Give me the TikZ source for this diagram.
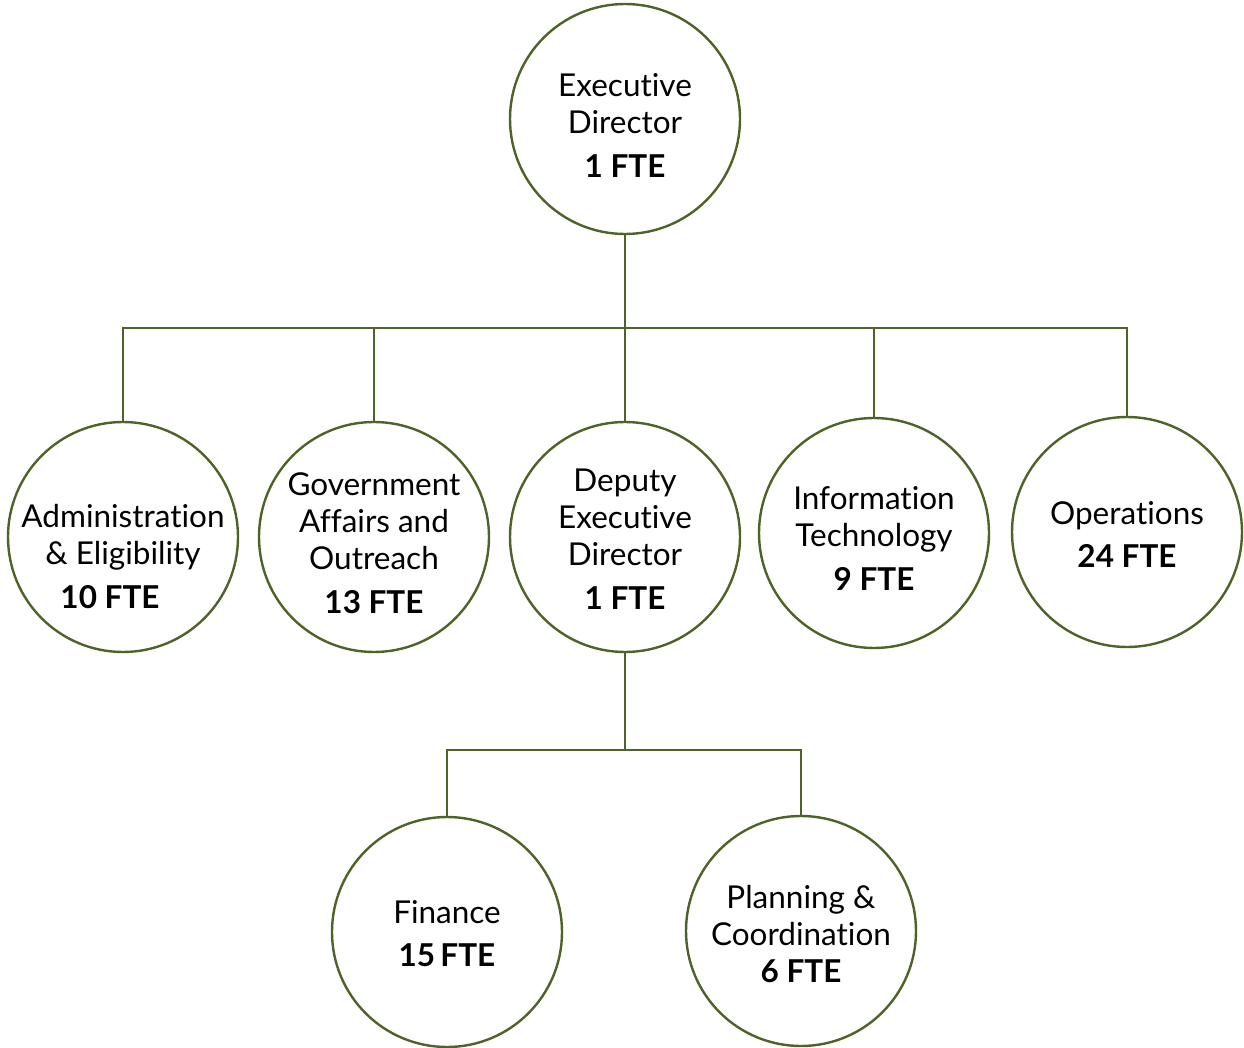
\documentclass[tikz,border=0pt]{standalone}
\usepackage{fontspec}
\setmainfont{Lato}[Ligatures={NoCommon,NoRequired,NoContextual}]
\definecolor{olive}{HTML}{4F6228}
\begin{document}
\begin{tikzpicture}[x=1pt,y=-1pt,
  circ/.style={circle,draw=olive,line width=2.4pt,minimum size=230pt,inner sep=0pt,fill=white},
  txt/.style={align=center,font=\fontsize{31.5}{37}\selectfont,text=black,anchor=base,inner sep=0pt},
  conn/.style={draw=olive,line width=2.4pt}]
\useasboundingbox (0,0) rectangle (1244,1048);
\coordinate (bus) at (625,328);
\coordinate (bus2) at (625,750);
\node[circ] (ed) at (625,119) {};
\node[circ] (adm) at (123,537) {};
\node[circ] (gov) at (374,537) {};
\node[circ] (dep) at (625,537) {};
\node[circ] (it) at (874,533) {};
\node[circ] (ops) at (1127,532) {};
\node[circ] (fin) at (447,932) {};
\node[circ] (pln) at (801,931) {};
\foreach \c in {adm,gov,dep,it,ops}
  \draw[conn] (ed.south) -- (ed.south |- bus) -| (\c.north);
\foreach \c in {fin,pln}
  \draw[conn] (dep.south) -- (dep.south |- bus2) -| (\c.north);
% texts (anchored at the baseline of their last line)
\node[txt] (t-ed) at (625,178) {Executive\\Director\\[7pt]\textbf{1 FTE}};
\node[txt] (t-adm) at (123,608) {Administration\\\&\ Eligibility\\[7pt]\textbf{10 FTE}\hspace*{26pt}};
\node[txt] (t-gov) at (374,613) {Government\\Affairs and\\Outreach\\[7pt]\textbf{13 FTE}};
\node[txt] (t-dep) at (625,609) {Deputy\\Executive\\Director\\[7pt]\textbf{1 FTE}};
\node[txt] (t-it) at (874,590) {Information\\Technology\\[7pt]\textbf{9 FTE}};
\node[txt] (t-ops) at (1127,567) {Operations\\[6pt]\textbf{24 FTE}};
\node[txt] (t-fin) at (447,966) {Finance\\[6pt]\textbf{15\,FTE}};
\node[txt] (t-pln) at (801,982) {Planning \&\\Coordination\\\textbf{6 FTE}};
\end{tikzpicture}
\end{document}
